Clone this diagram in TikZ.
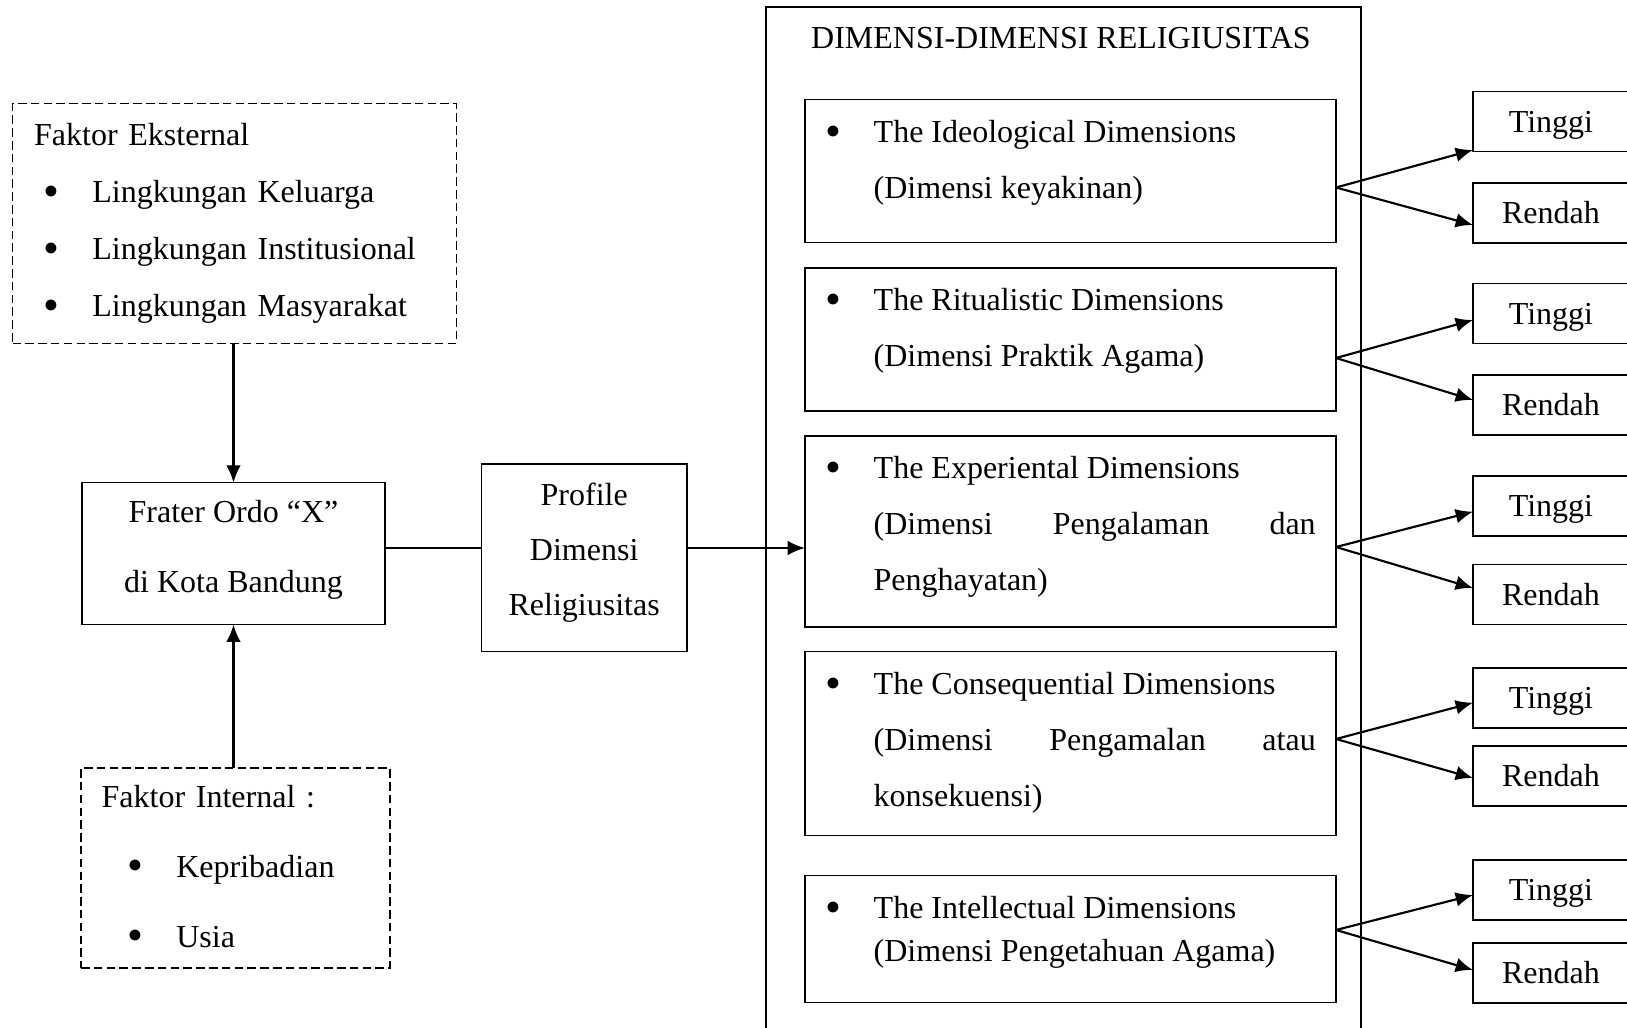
\documentclass[tikz,border=0pt]{standalone}
\usepackage{fontspec}
\setmainfont{Liberation Serif}
\usepackage{tikz}
\usetikzlibrary{arrows.meta}
\newcommand{\pixelsize}{0.375pt}
\newcommand{\nodefont}[1]{\fontsize{12pt}{#1}\selectfont}
\newcommand{\listbullet}{\makebox[18.2pt][l]{\raisebox{-1.4pt}{\fontsize{17pt}{17pt}\selectfont\textbullet}}}
\newcommand{\dimitem}{\leavevmode\llap{\listbullet}}
\hyphenpenalty=10000
\exhyphenpenalty=10000
\tolerance=9999
\tikzstyle{box}=[draw, line width=0.6pt, inner sep=0, outer sep=0]
\tikzstyle{dashbox}=[box, line width=0.5pt, dash pattern=on 3.2pt off 1.6pt, align=left]
\tikzstyle{dimbox}=[box, minimum width=531*\pixelsize]
\tikzstyle{levelbox}=[box, minimum width=156*\pixelsize, minimum height=60*\pixelsize,
                      text height=8.2pt, text depth=0pt]
\tikzstyle{dimtext}=[inner sep=0, outer sep=0, anchor=north west, text width=442*\pixelsize,
                     align=justify, font=\nodefont{21pt}]
\tikzstyle{arrow}=[-{Latex[length=6.5pt, width=5.5pt]}, line width=0.8pt]
\tikzstyle{link}=[line width=0.8pt]
\tikzstyle{religi}=[x=\pixelsize, y=-\pixelsize,
                    % Default font for every label.
                    every node/.style={font=\nodefont{14pt}}]

\begin{document}
\begin{tikzpicture}[religi]
    \useasboundingbox (0,0) rectangle (1627,1028);
    \clip (0,0) rectangle (1627,1028);

    % left side
    \node[dashbox, text width=400.6*\pixelsize, minimum width=444*\pixelsize, minimum height=239.6*\pixelsize,
          font=\nodefont{21.4pt}] (Eks) at (234.5,223.6)
        {Faktor Eksternal\\
         \hspace*{3.6pt}\listbullet Lingkungan Keluarga\\
         \hspace*{3.6pt}\listbullet Lingkungan Institusional\\
         \hspace*{3.6pt}\listbullet Lingkungan Masyarakat};
    \node[box, align=center, minimum width=303*\pixelsize, minimum height=142*\pixelsize,
          font=\nodefont{26pt}, text depth=5.3pt] (Frater) at (233.5,553.6) {Frater Ordo “X”\\di Kota Bandung};
    \node[dashbox, text width=267.6*\pixelsize, minimum width=309*\pixelsize, minimum height=200*\pixelsize,
          font=\nodefont{26.25pt}] (Int) at (235.5,867.9)
        {Faktor Internal :\\
         \hspace*{9.8pt}\listbullet Kepribadian\\
         \hspace*{9.8pt}\listbullet Usia};
    \node[box, align=center, minimum width=205.5*\pixelsize, minimum height=187.8*\pixelsize,
          font=\nodefont{20.6pt}, text depth=6.6pt] (Profile) at (584.2,557.7) {Profile\\Dimensi\\Religiusitas};

    % dimensions
    \node[box, line width=0.8pt, minimum width=595*\pixelsize, minimum height=1043*\pixelsize] (Frame) at (1063.5,528.5) {};
    \node (Title) at (1061,38) {DIMENSI-DIMENSI RELIGIUSITAS};
    \node[dimbox, minimum height=143*\pixelsize] (D1) at (1070.5,171) {};
    \node[dimbox, minimum height=143*\pixelsize] (D2) at (1070.5,339.3) {};
    \node[dimbox, minimum height=191*\pixelsize] (D3) at (1070.5,531.2) {};
    \node[dimbox, minimum height=184*\pixelsize] (D4) at (1070.5,743.5) {};
    \node[dimbox, minimum height=127*\pixelsize] (D5) at (1070.5,939) {};
    \node[dimtext] (D1t) at ([xshift=68.7*\pixelsize, yshift=-20.9*\pixelsize]D1.north west)
        {\dimitem The Ideological Dimensions\\(Dimensi keyakinan)};
    \node[dimtext] (D2t) at ([xshift=68.7*\pixelsize, yshift=-20.9*\pixelsize]D2.north west)
        {\dimitem The Ritualistic Dimensions\\(Dimensi Praktik Agama)};
    \node[dimtext] (D3t) at ([xshift=68.7*\pixelsize, yshift=-20.9*\pixelsize]D3.north west)
        {\dimitem The Experiental Dimensions\\(Dimensi Pengalaman dan Penghayatan)};
    \node[dimtext] (D4t) at ([xshift=68.7*\pixelsize, yshift=-20.9*\pixelsize]D4.north west)
        {\dimitem The Consequential Dimensions\\(Dimensi Pengamalan atau konsekuensi)};
    \node[dimtext, font=\nodefont{16pt}] (D5t) at ([xshift=68.7*\pixelsize, yshift=-20.9*\pixelsize]D5.north west)
        {\dimitem The Intellectual Dimensions\\(Dimensi Pengetahuan Agama)};

    % levels
    \node[levelbox] (T1) at (1551,121.5) {Tinggi};
    \node[levelbox] (R1) at (1551,212.7) {Rendah};
    \node[levelbox] (T2) at (1551,313.5) {Tinggi};
    \node[levelbox] (R2) at (1551,405) {Rendah};
    \node[levelbox] (T3) at (1551,506) {Tinggi};
    \node[levelbox] (R3) at (1551,594.5) {Rendah};
    \node[levelbox] (T4) at (1551,698) {Tinggi};
    \node[levelbox] (R4) at (1551,776) {Rendah};
    \node[levelbox] (T5) at (1551,890) {Tinggi};
    \node[levelbox] (R5) at (1551,973) {Rendah};

    % connectors
    \coordinate (Axis) at (0,548);
    \draw[arrow] (Eks.south -| Frater.north) -- (Frater.north);
    \draw[arrow] (Int.north -| Frater.south) -- (Frater.south);
    \draw[link] (Frater.east |- Axis) -- (Profile.west |- Axis);
    \draw[arrow] (Profile.east |- Axis) -- (D3.west |- Axis);
    \coordinate (K1) at (D1.east |- 0,187.5);
    \coordinate (K2) at (D2.east |- 0,358);
    \coordinate (K3) at (D3.east |- 0,547);
    \coordinate (K4) at (D4.east |- 0,739);
    \coordinate (K5) at (D5.east |- 0,930);
    \draw[arrow] (K1) -- (T1.west |- 0,150);
    \draw[arrow] (K1) -- (R1.west |- 0,225);
    \draw[arrow] (K2) -- (T2.west |- 0,320);
    \draw[arrow] (K2) -- (R2.west |- 0,400);
    \draw[arrow] (K3) -- (T3.west |- 0,511.7);
    \draw[arrow] (K3) -- (R3.west |- 0,588);
    \draw[arrow] (K4) -- (T4.west |- 0,702.7);
    \draw[arrow] (K4) -- (R4.west |- 0,778);
    \draw[arrow] (K5) -- (T5.west |- 0,895);
    \draw[arrow] (K5) -- (R5.west |- 0,970);
\end{tikzpicture}
\end{document}
